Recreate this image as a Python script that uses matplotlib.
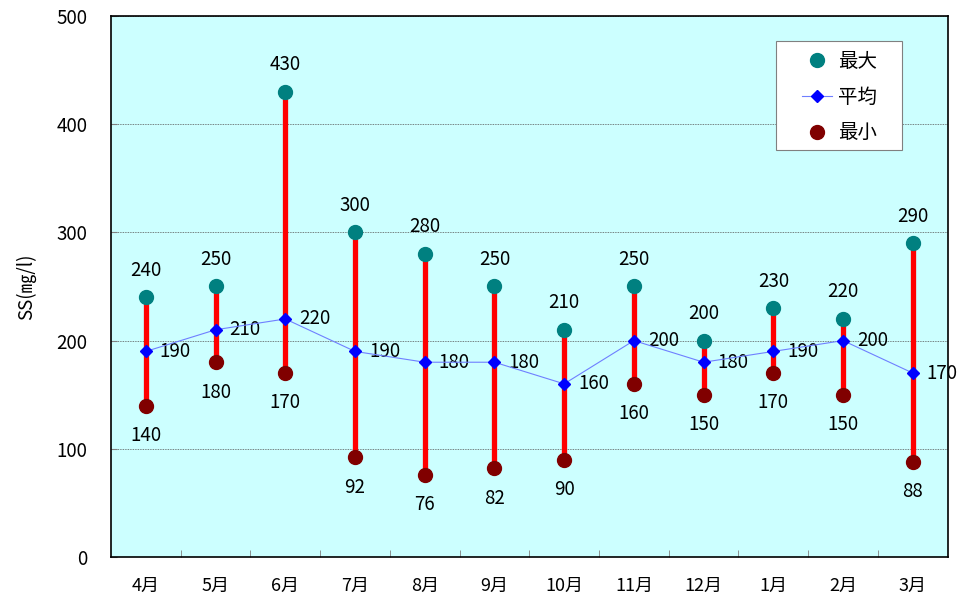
import matplotlib
matplotlib.use("Agg")
import matplotlib.pyplot as plt
from matplotlib.patches import Rectangle
import numpy as np

plt.rcParams['font.family'] = ['Noto Sans CJK JP', 'DejaVu Sans']

months = ["4月", "5月", "6月", "7月", "8月", "9月", "10月", "11月", "12月", "1月", "2月", "3月"]
max_vals = [240, 250, 430, 300, 280, 250, 210, 250, 200, 230, 220, 290]
mean_vals = [190, 210, 220, 190, 180, 180, 160, 200, 180, 190, 200, 170]
min_vals = [140, 180, 170, 92, 76, 82, 90, 160, 150, 170, 150, 88]
y_ticks = [0, 100, 200, 300, 400, 500]

fig = plt.figure(figsize=(9.65, 6.02), dpi=100)
ax = fig.add_axes([0.115, 0.0748, 0.867, 0.8986])
ax.set_facecolor("#CCFFFF")

x = np.arange(len(months))

# range bars
ax.vlines(x, min_vals, max_vals, color="#FF0000", linewidth=3.8, zorder=2)
ax.plot(x, mean_vals, color="#6F7FFF", linewidth=0.8, marker="D", markersize=6,
        markerfacecolor="#0000FF", markeredgecolor="#0000FF", zorder=4, label="平均")
ax.plot(x, max_vals, linestyle="none", marker="o", markersize=10,
        color="#008080", zorder=3, label="最大")
ax.plot(x, min_vals, linestyle="none", marker="o", markersize=10,
        color="#800000", zorder=3, label="最小")

lab_fs = 13.5
for xi, v in zip(x, max_vals):
    ax.annotate(f"{v}", (xi, v), xytext=(0, 19.5), textcoords="offset points",
                ha="center", va="center", fontsize=lab_fs)
for xi, v in zip(x, mean_vals):
    ax.annotate(f"{v}", (xi, v), xytext=(10, 0), textcoords="offset points",
                ha="left", va="center", fontsize=lab_fs)
for xi, v in zip(x, min_vals):
    ax.annotate(f"{v}", (xi, v), xytext=(0, -21.5), textcoords="offset points",
                ha="center", va="center", fontsize=lab_fs)

ax.set_xlim(-0.5, len(months) - 0.5)
ax.set_ylim(0, 500)
ax.set_yticks(y_ticks)
ax.set_yticklabels([str(t) for t in y_ticks], fontsize=13.5)
ax.set_xticks(x)
ax.set_xticklabels(months, fontsize=13)
ax.tick_params(axis="x", length=0, pad=14)
ax.tick_params(axis="y", direction="in", length=4, color="#808080", pad=17)
ax.set_xticks(np.arange(0.5, len(months) - 0.5, 1.0), minor=True)
ax.tick_params(axis="x", which="minor", direction="in", length=5, color="#808080")

ax.yaxis.grid(True, color="#555555", linestyle=(0, (1, 1)), linewidth=0.6)
ax.set_axisbelow(True)
for sp in ax.spines.values():
    sp.set_color("black")
    sp.set_linewidth(1.2)

ax.set_ylabel("SS(㎎/l)", fontsize=13.5, labelpad=14)

# legend box
box = Rectangle((0.7945, 0.7523), 0.1505, 0.2015, transform=ax.transAxes,
                facecolor="white", edgecolor="#808080", linewidth=0.8, zorder=5)
ax.add_patch(box)

handles, labels = ax.get_legend_handles_labels()
order = [1, 0, 2]
leg = ax.legend([handles[i] for i in order], [labels[i] for i in order],
                loc="upper left", bbox_to_anchor=(0.8256, 0.935), fontsize=14,
                frameon=False, borderpad=0, labelspacing=0.75, handlelength=1.55,
                handletextpad=0.32, borderaxespad=0, numpoints=1)
leg.set_zorder(6)

fig.savefig("out.png", dpi=100, facecolor="white")
